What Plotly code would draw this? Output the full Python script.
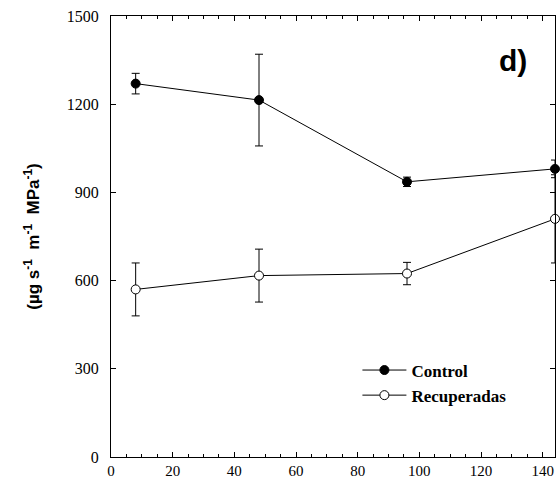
import plotly.graph_objects as go

hours = [8, 48, 96, 144]
control = [1270, 1214, 936, 980]
control_err = [35, 156, 16, 30]
recuperadas = [570, 617, 624, 810]
recuperadas_err = [90, 90, 38, 150]

x_ticks = [0, 20, 40, 60, 80, 100, 120, 140]
y_ticks = [0, 300, 600, 900, 1200, 1500]

fig = go.Figure()
fig.add_trace(go.Scatter(
    x=hours, y=control, name="<b>Control</b>", mode="lines+markers",
    line=dict(color="black", width=1),
    marker=dict(symbol="circle", size=9, color="black", line=dict(color="black", width=1)),
    error_y=dict(type="data", array=control_err, visible=True, color="black", thickness=1, width=4),
    cliponaxis=False,
))
fig.add_trace(go.Scatter(
    x=hours, y=recuperadas, name="<b>Recuperadas</b>", mode="lines+markers",
    line=dict(color="black", width=1),
    marker=dict(symbol="circle", size=9, color="white", line=dict(color="black", width=1)),
    error_y=dict(type="data", array=recuperadas_err, visible=True, color="black", thickness=1, width=4),
    cliponaxis=False,
))

fig.update_xaxes(
    range=[0, 144], tickvals=x_ticks, ticks="inside", ticklen=5, tickwidth=1, tickcolor="black",
    showline=True, linecolor="black", linewidth=1, mirror="ticks", showgrid=False, zeroline=False,
    tickfont=dict(family="Liberation Serif", size=15, color="black"), ticklabelstandoff=0, automargin=False,
    minor=dict(dtick=5, ticks="inside", ticklen=3, tickwidth=1, tickcolor="black", showgrid=False),
)
fig.update_yaxes(
    range=[0, 1500], tickvals=y_ticks, ticks="inside", ticklen=5, tickwidth=1, tickcolor="black",
    showline=True, linecolor="black", linewidth=1, mirror="ticks", showgrid=False, zeroline=False,
    tickfont=dict(family="Liberation Serif", size=16, color="black"), ticklabelstandoff=8, automargin=False,
    title=dict(text="<b>(µg s<sup>-1</sup>  m<sup>-1</sup>  MPa<sup>-1</sup>)</b>",
               font=dict(family="Liberation Sans", size=17, color="black"), standoff=22),
)
fig.add_annotation(
    text="<b>d)</b>", xref="paper", yref="paper", x=0.905, y=0.9, xanchor="center", yanchor="middle",
    showarrow=False, font=dict(family="Liberation Sans", size=30, color="black"),
)
fig.update_layout(
    width=560, height=481,
    margin=dict(l=111, r=5, t=16, b=24),
    paper_bgcolor="white", plot_bgcolor="white",
    showlegend=True,
    legend=dict(
        x=0.555, y=0.237, xanchor="left", yanchor="top", bgcolor="rgba(0,0,0,0)",
        font=dict(family="Liberation Serif", size=17, color="black"),
        itemwidth=44, tracegroupgap=0,
    ),
)
fig.write_html("out.html")
